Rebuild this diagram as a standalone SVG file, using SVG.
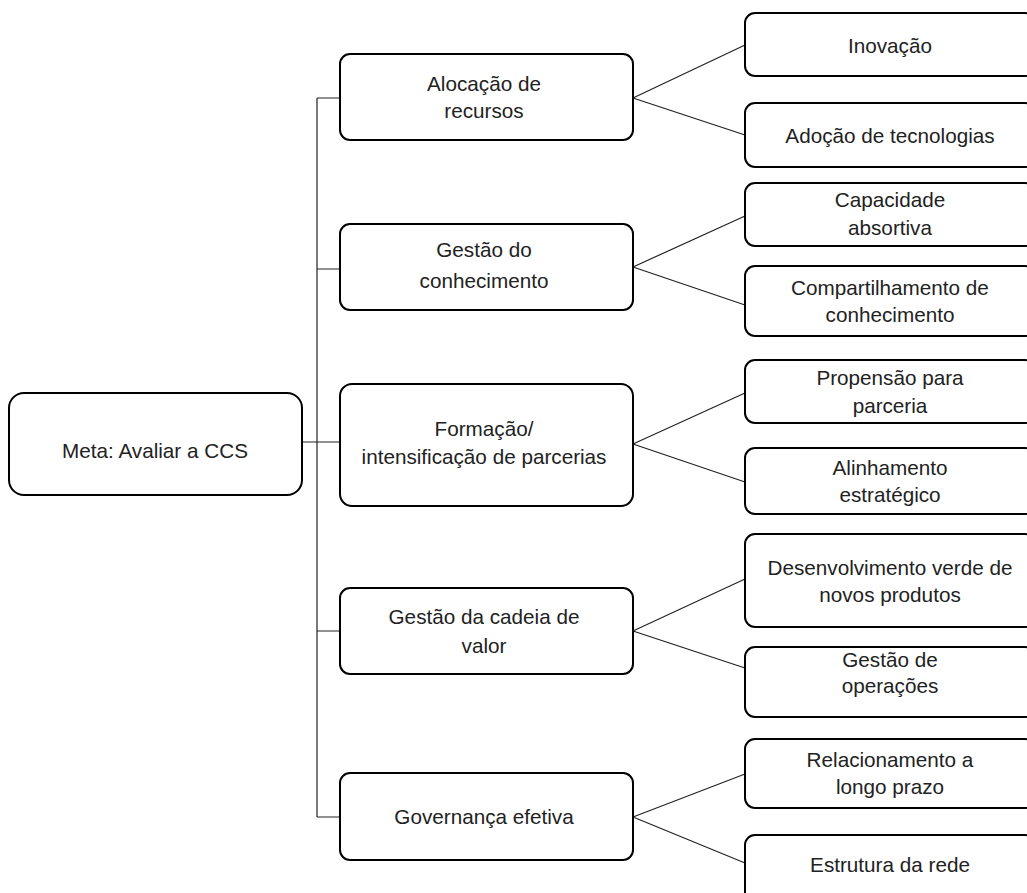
<svg xmlns="http://www.w3.org/2000/svg" width="1027" height="893" viewBox="0 0 1027 893">
<style>
.box{fill:#fff;stroke:#000;stroke-width:2}
.ln{fill:none;stroke:#222;stroke-width:1.2}
text{font-family:"Liberation Sans",Arial,sans-serif;font-size:20.7px;fill:#222;text-anchor:middle}
</style>
<rect width="1027" height="893" fill="#fff"/>
<g id="connectors">
<path class="ln" d="M317 98V817M317 98H340M317 269H340M317 631H340M317 817H340M301 442H340"/>
<path class="ln" d="M633 98L745 45M633 98L745 135"/>
<path class="ln" d="M633 267L745 216M633 267L745 305"/>
<path class="ln" d="M633 444L745 393M633 444L745 482"/>
<path class="ln" d="M633 631L745 579M633 631L745 668"/>
<path class="ln" d="M633 817L745 774M633 817L745 863"/>
</g>
<g id="root"><rect class="box" x="9" y="393" width="293" height="102" rx="15"/><text x="155" y="458">Meta: Avaliar a CCS</text></g>
<g id="m1"><rect class="box" x="340" y="54" width="293" height="86" rx="10"/><text x="484" y="91">Alocação de</text><text x="484" y="118">recursos</text></g>
<g id="m2"><rect class="box" x="340" y="224" width="293" height="86" rx="10"/><text x="484" y="257">Gestão do</text><text x="484" y="288">conhecimento</text></g>
<g id="m3"><rect class="box" x="340" y="384" width="293" height="122" rx="12"/><text x="484" y="436">Formação/</text><text x="484" y="464">intensificação de parcerias</text></g>
<g id="m4"><rect class="box" x="340" y="588" width="293" height="86" rx="10"/><text x="484" y="624">Gestão da cadeia de</text><text x="484" y="653">valor</text></g>
<g id="m5"><rect class="box" x="340" y="773" width="293" height="87" rx="10"/><text x="484" y="824">Governança efetiva</text></g>
<g id="r1"><rect class="box" x="745" y="13" width="290" height="63" rx="10"/><text x="890" y="53">Inovação</text></g>
<g id="r2"><rect class="box" x="745" y="103" width="290" height="64" rx="10"/><text x="890" y="143">Adoção de tecnologias</text></g>
<g id="r3"><rect class="box" x="745" y="183" width="290" height="63" rx="10"/><text x="890" y="207">Capacidade</text><text x="890" y="235">absortiva</text></g>
<g id="r4"><rect class="box" x="745" y="266" width="290" height="70" rx="10"/><text x="890" y="295">Compartilhamento de</text><text x="890" y="322">conhecimento</text></g>
<g id="r5"><rect class="box" x="745" y="360" width="290" height="63" rx="10"/><text x="890" y="385">Propensão para</text><text x="890" y="413">parceria</text></g>
<g id="r6"><rect class="box" x="745" y="448" width="290" height="66" rx="10"/><text x="890" y="475">Alinhamento</text><text x="890" y="502">estratégico</text></g>
<g id="r7"><rect class="box" x="745" y="534" width="290" height="93" rx="10"/><text x="890" y="575">Desenvolvimento verde de</text><text x="890" y="602">novos produtos</text></g>
<g id="r8"><rect class="box" x="745" y="647" width="290" height="70" rx="10"/><text x="890" y="667">Gestão de</text><text x="890" y="693">operações</text></g>
<g id="r9"><rect class="box" x="745" y="739" width="290" height="69" rx="10"/><text x="890" y="767">Relacionamento a</text><text x="890" y="794">longo prazo</text></g>
<g id="r10"><rect class="box" x="745" y="835" width="290" height="80" rx="10"/><text x="890" y="872">Estrutura da rede</text></g>
</svg>
